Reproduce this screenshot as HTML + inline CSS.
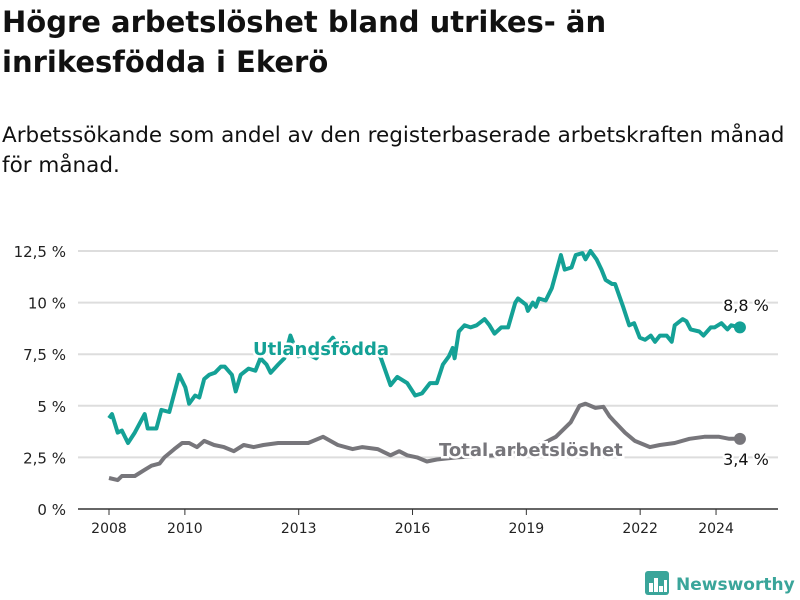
<!DOCTYPE html>
<html><head><meta charset="utf-8"><style>
body{margin:0;background:#fff;width:800px;height:600px;overflow:hidden;font-family:"DejaVu Sans","Noto Sans CJK SC",sans-serif;color:#111}
h1{position:absolute;left:2px;top:2px;margin:0;font-size:29px;line-height:40px;font-weight:bold}
p{position:absolute;left:2px;top:121px;margin:0;font-size:21.5px;line-height:30px}
svg{position:absolute;left:0;top:0}
</style></head><body>
<h1>Högre arbetslöshet bland utrikes- än<br>inrikesfödda i Ekerö</h1>
<p>Arbetssökande som andel av den registerbaserade arbetskraften månad<br>för månad.</p>
<svg id="c" width="800" height="600"></svg>
<script>
const yTicks=[0,2.5,5,7.5,10,12.5];
const yTickLabels=["0 %","2,5 %","5 %","7,5 %","10 %","12,5 %"];
const xTicks=[2008,2010,2013,2016,2019,2022,2024];
const utlYears=[2008.0,2008.08,2008.23,2008.34,2008.5,2008.68,2008.94,2009.02,2009.25,2009.38,2009.59,2009.85,2010.01,2010.11,2010.27,2010.38,2010.51,2010.64,2010.79,2010.95,2011.05,2011.24,2011.34,2011.47,2011.68,2011.86,2011.99,2012.15,2012.26,2012.46,2012.62,2012.78,2012.99,2013.25,2013.46,2013.9,2014.16,2014.55,2014.97,2015.15,2015.42,2015.6,2015.86,2016.07,2016.25,2016.46,2016.64,2016.8,2016.96,2017.06,2017.11,2017.22,2017.37,2017.53,2017.69,2017.9,2018.03,2018.16,2018.34,2018.52,2018.71,2018.78,2018.99,2019.04,2019.17,2019.25,2019.33,2019.51,2019.67,2019.91,2020.01,2020.19,2020.3,2020.48,2020.56,2020.69,2020.85,2020.98,2021.09,2021.26,2021.34,2021.55,2021.71,2021.84,2021.99,2022.13,2022.28,2022.39,2022.52,2022.7,2022.83,2022.91,2023.12,2023.22,2023.33,2023.56,2023.67,2023.86,2023.96,2024.14,2024.3,2024.4,2024.63];
const utlValues=[4.4,4.6,3.7,3.8,3.2,3.7,4.6,3.9,3.9,4.8,4.7,6.5,5.9,5.1,5.5,5.4,6.3,6.5,6.6,6.9,6.9,6.5,5.7,6.5,6.8,6.7,7.3,7.0,6.6,7.0,7.3,8.4,7.4,7.5,7.3,8.3,7.5,7.6,7.6,7.4,6.0,6.4,6.1,5.5,5.6,6.1,6.1,7.0,7.4,7.8,7.3,8.6,8.9,8.8,8.9,9.2,8.9,8.5,8.8,8.8,10.0,10.2,9.9,9.6,10.0,9.8,10.2,10.1,10.7,12.3,11.6,11.7,12.3,12.4,12.1,12.5,12.1,11.6,11.1,10.9,10.9,9.8,8.9,9.0,8.3,8.2,8.4,8.1,8.4,8.4,8.1,8.9,9.2,9.1,8.7,8.6,8.4,8.8,8.8,9.0,8.7,8.9,8.8];
const totYears=[2008,2008.23,2008.34,2008.68,2008.94,2009.12,2009.33,2009.46,2009.72,2009.93,2010.11,2010.32,2010.51,2010.77,2011.03,2011.29,2011.55,2011.81,2012.07,2012.46,2012.86,2013.25,2013.64,2014.03,2014.42,2014.68,2015.08,2015.42,2015.65,2015.86,2016.12,2016.38,2016.64,2017.16,2018.2,2019.25,2019.78,2020.17,2020.4,2020.56,2020.82,2021.03,2021.19,2021.34,2021.6,2021.86,2022.26,2022.52,2022.91,2023.3,2023.69,2024.08,2024.35,2024.63];
const totValues=[1.5,1.4,1.6,1.6,1.9,2.1,2.2,2.5,2.9,3.2,3.2,3.0,3.3,3.1,3.0,2.8,3.1,3.0,3.1,3.2,3.2,3.2,3.5,3.1,2.9,3.0,2.9,2.6,2.8,2.6,2.5,2.3,2.4,2.5,2.6,3.0,3.5,4.2,5.0,5.1,4.9,4.95,4.5,4.2,3.7,3.3,3.0,3.1,3.2,3.4,3.5,3.5,3.4,3.4];
const NS="http://www.w3.org/2000/svg",svg=document.getElementById('c');
const X=y=>109+(y-2008)*37.94, Y=v=>509-v*20.64;
function mk(t,a,p){const e=document.createElementNS(NS,t);for(const k in a)e.setAttribute(k,a[k]);(p||svg).appendChild(e);return e;}
yTicks.forEach((t,i)=>{
 const l=mk('line',{x1:78,x2:778,y1:Y(t),y2:Y(t),stroke:t===0?'#333':'#ddd','stroke-width':t===0?1.5:2});
 
 
 const tx=mk('text',{x:66,y:Y(t)+6,'text-anchor':'end','font-size':15,fill:'#222'});tx.textContent=yTickLabels[i];
 
 
});
xTicks.forEach(t=>{
 const l=mk('line',{x1:X(t),x2:X(t),y1:509,y2:515,stroke:'#333'});
 
 
 const tx=mk('text',{x:X(t),y:533,'text-anchor':'middle','font-size':14,fill:'#222'});tx.textContent=t;
 
 
});
function line(ys,vs,col,name){
 const d=ys.map((y,i)=>(i?'L':'M')+X(y).toFixed(1)+','+Y(vs[i]).toFixed(1)).join('');
 const p=mk('path',{d:d,fill:'none',stroke:col,'stroke-width':4,'stroke-linejoin':'round'});
 
 
 const n=ys.length-1;
 const c=mk('circle',{cx:X(ys[n]),cy:Y(vs[n]),r:6,fill:col});
 
 
}
line(totYears,totValues,'#77767b','total-line');
line(utlYears,utlValues,'#14a196','utlandsfodda-line');
function lab(txt,x,y,col,bold,name,anchor){
 const t=mk('text',{x:x,y:y,'font-size':bold?18:16,'font-weight':bold?'bold':'normal',fill:col,stroke:'#fff','stroke-width':bold?5:4,'paint-order':'stroke','text-anchor':anchor||'start'});
 t.textContent=txt;
 
 
}
lab('Utlandsfödda',253,355,'#14a196',1,'utlandsfodda-label');
lab('Total arbetslöshet',439,456,'#77767b',1,'total-label');
lab('8,8 %',746,311,'#111',0,'utlandsfodda-end-value','middle');
lab('3,4 %',746,465,'#111',0,'total-end-value','middle');
const g=mk('g',{});
mk('rect',{x:645,y:571,width:24,height:24,rx:3,fill:'#3aa59a'},g);
[[649,583,4,9],[654,578,4,14],[659,586,4,6],[664,580,3,12]].forEach(r=>mk('rect',{x:r[0],y:r[1],width:r[2],height:r[3],fill:'#fff'},g));
const lt=mk('text',{x:676,y:590,'font-size':17,'font-weight':'bold',fill:'#3aa59a'},g);lt.textContent='Newsworthy';
</script>
</body></html>
